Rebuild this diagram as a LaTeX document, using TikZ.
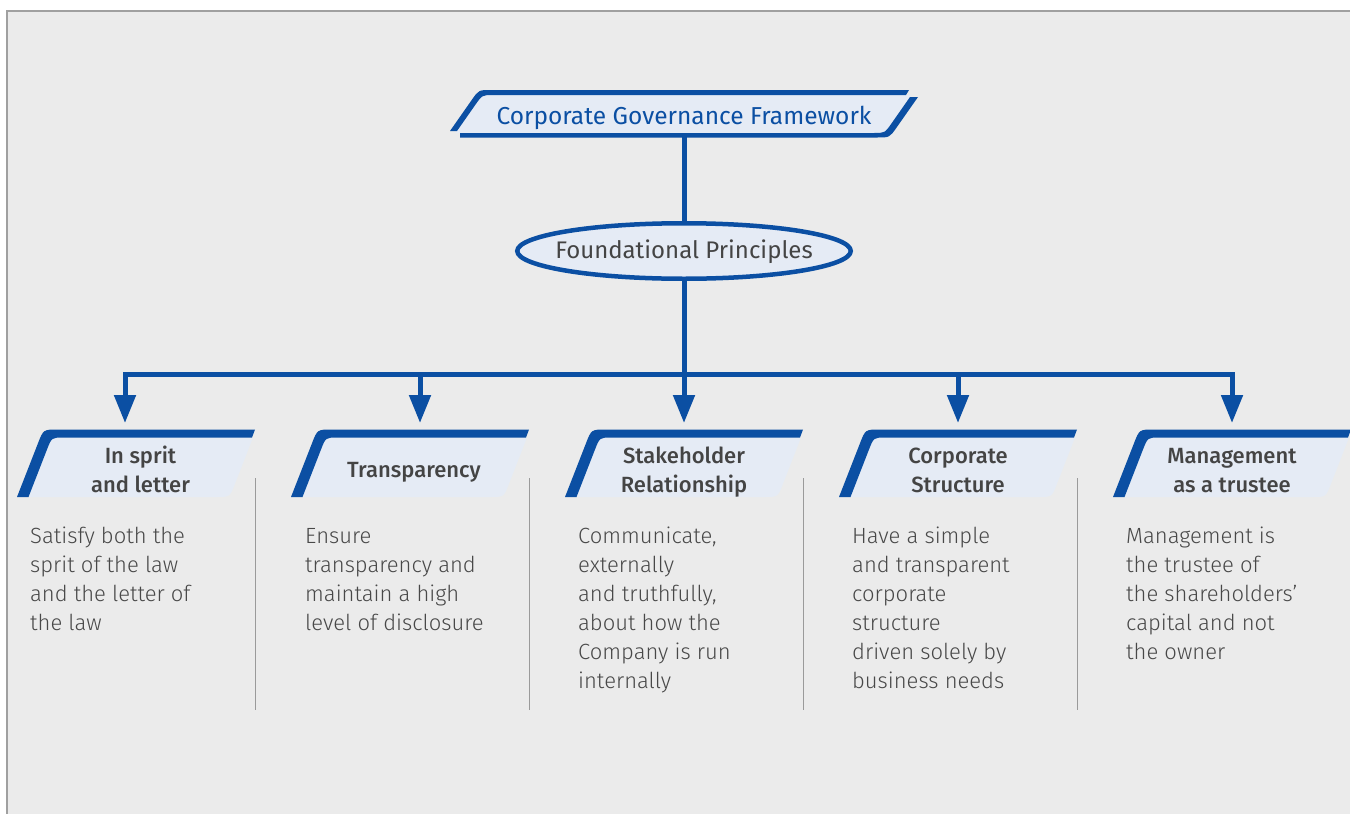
\documentclass[tikz,border=0pt]{standalone}
\usepackage{fontspec}
\setmainfont{Fira Sans}
\newfontfamily\lightf{Fira Sans Light}
\newfontfamily\medf{Fira Sans Medium}
\usetikzlibrary{shapes.geometric,arrows.meta}
\definecolor{cblue}{HTML}{0B4FA3}
\definecolor{cfill}{HTML}{E5EBF5}
\definecolor{cbg}{HTML}{EBEBEB}
\definecolor{cframe}{HTML}{A0A0A0}
\definecolor{ctext}{HTML}{444444}
\definecolor{cbody}{HTML}{484848}
\definecolor{csep}{HTML}{9A9A9A}
\newcommand\childdeco[1]{%
  \fill[cfill] (#1+11.5,497) -- (#1+30,449.5) .. controls (#1+34.7,437.5) .. (#1+46.7,437.5)
    -- (#1+236,437.5) -- (#1+217.5,485) .. controls (#1+212.8,497) .. (#1+199,497) -- cycle;
  \fill[cblue] (#1,497) -- (#1+20.9,443.5) .. controls (#1+26.3,429.5) .. (#1+41,429.5)
    -- (#1+238,429.5) -- (#1+235,437.5) -- (#1+46.7,437.5) .. controls (#1+34.7,437.5) .. (#1+30,449.5)
    -- (#1+11.5,497) -- cycle;
}
\begin{document}
\begin{tikzpicture}[x=1pt,y=-1pt,
  conn/.style={draw=cblue,line width=5pt},
  arr/.style={conn,-{Triangle[width=21pt,length=28pt]}},
  body/.style={anchor=north west,inner sep=0pt,align=left,text=cbody,
    font=\lightf\fontsize{22}{29}\selectfont},
  head/.style={anchor=center,inner sep=0pt,align=center,text=ctext,
    font=\medf\fontsize{22}{29}\selectfont},
  sep/.style={draw=csep,line width=1pt}]
\useasboundingbox (0,0) rectangle (1350,814);
\fill[white] (0,0) rectangle (1350,814);
\fill[cbg] (7,11) rectangle (1350,814);
\draw[cframe,line width=2.5pt] (7,814) -- (7,11) -- (1350,11);

% named anchors
\node[minimum width=468pt,minimum height=47pt,inner sep=0pt] (topbox) at (684,113.5) {};
\node[ellipse,draw=cblue,line width=4.5pt,fill=cfill,minimum width=333.5pt,minimum height=55.5pt,
  inner sep=0pt] (fp) at (684,251) {};
\node[inner sep=0pt,text=ctext,font=\fontsize{24}{29}\selectfont] (fptext) at (684,252) {Foundational Principles};
\coordinate (bus) at (684,374);
\coordinate (t1) at (125,423);
\coordinate (t2) at (420,423);
\coordinate (t3) at (684,423);
\coordinate (t4) at (958,423);
\coordinate (t5) at (1232,423);

% connectors
\draw[conn] (topbox.south) -- (fp.north);
\draw[arr] (fp.south) -- (t3);
\draw[arr] (bus) -| (t1);
\draw[arr] (bus) -| (t2);
\draw[arr] (bus) -| (t4);
\draw[arr] (bus) -| (t5);

% top box decoration
\fill[cfill] (455.6,133) -- (475.2,105) .. controls (482.2,95) .. (493,95) -- (911,95)
  -- (891.8,123) .. controls (884.8,133) .. (874,133) -- cycle;
\fill[cblue] (450,131) -- (471.7,100) .. controls (478.7,90) .. (491,90) -- (909,90) -- (906,95)
  -- (493,95) .. controls (482.2,95) .. (475.2,105) -- (457,131) -- cycle;
\fill[cblue] (460,137.5) -- (877,137.5) .. controls (889.6,137.5) .. (896.6,127.5) -- (918,97)
  -- (910,97) -- (891.8,123) .. controls (884.8,133) .. (874,133) -- (460,133) -- cycle;
\node[anchor=base,inner sep=0pt,text=cblue,font=\fontsize{24.5}{29}\selectfont] (title)
  at (684,124.3) {Corporate Governance Framework};

% child boxes
\childdeco{17}
\childdeco{291}
\childdeco{565}
\childdeco{839}
\childdeco{1113}

\node[head] (h1) at (140.5,472) {\strut In sprit\\\strut and letter};
\node[head] (h2) at (414,472) {\strut Transparency};
\node[head] (h3) at (684,472) {\strut Stakeholder\\\strut Relationship};
\node[head] (h4) at (958,472) {\strut Corporate\\\strut Structure};
\node[head] (h5) at (1232,472) {\strut Management\\\strut as a trustee};

% separators
\coordinate (s1a) at (255,478); \coordinate (s1b) at (255,710);
\coordinate (s2a) at (529,478); \coordinate (s2b) at (529,710);
\coordinate (s3a) at (803,478); \coordinate (s3b) at (803,710);
\coordinate (s4a) at (1077,478); \coordinate (s4b) at (1077,710);
\draw[sep] (s1a) -- (s1b);
\draw[sep] (s2a) -- (s2b);
\draw[sep] (s3a) -- (s3b);
\draw[sep] (s4a) -- (s4b);

% body texts
\node[body] (b1) at (30,522.7) {\strut Satisfy both the\\sprit of the law\\and the letter of\\the law};
\node[body] (b2) at (305,522.7) {\strut Ensure\\transparency and\\maintain a high\\level of disclosure};
\node[body] (b3) at (578,522.7) {\strut Communicate,\\externally\\and truthfully,\\about how the\\Company is run\\internally};
\node[body] (b4) at (852,522.7) {\strut Have a simple\\and transparent\\corporate\\structure\\driven solely by\\business needs};
\node[body] (b5) at (1126,522.7) {\strut Management is\\the trustee of\\the shareholders’\\capital and not\\the owner};
\end{tikzpicture}
\end{document}
